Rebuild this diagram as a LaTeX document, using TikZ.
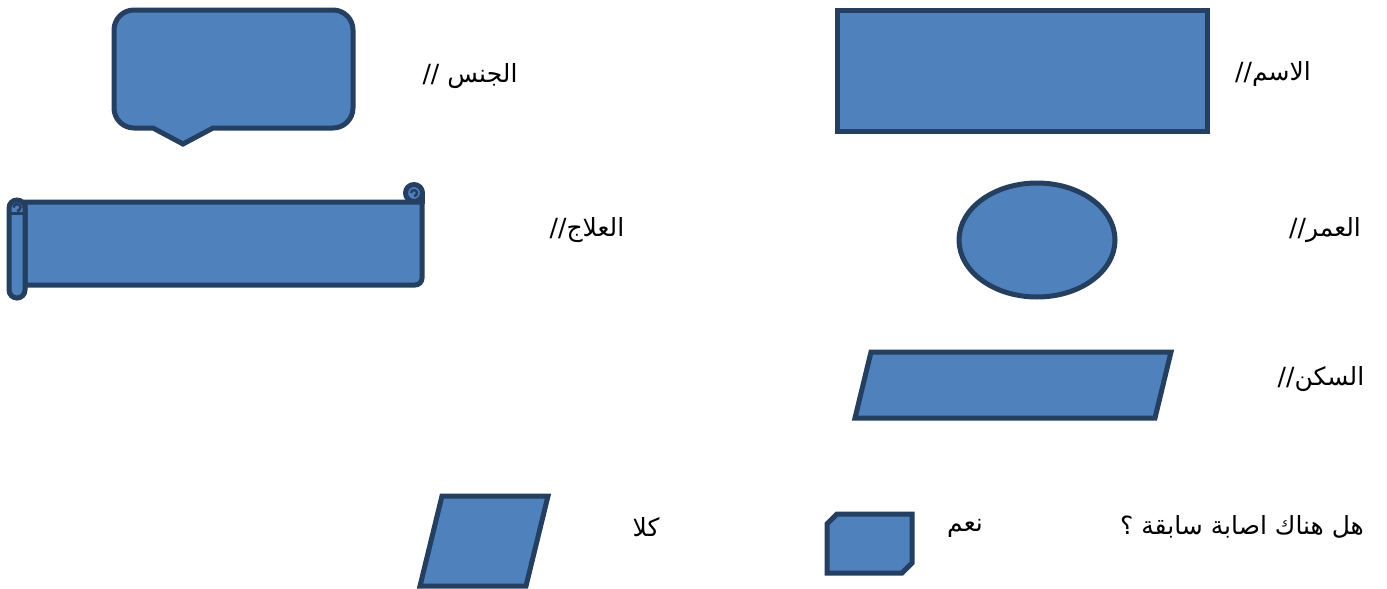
\documentclass[tikz,border=0pt]{standalone}
\usepackage{fontspec}
\newfontfamily\arabicfont[Script=Arabic]{DejaVu Sans}
\TeXXeTstate=1
\definecolor{shapefill}{HTML}{4F81BD}
\definecolor{shapeline}{HTML}{243F60}
\tikzset{
  shp/.style={fill=shapefill,draw=shapeline,line width=5pt},
  lbl/.style={font=\arabicfont\fontsize{25}{28}\selectfont,inner sep=0pt,anchor=center},
}
\begin{document}
\begin{tikzpicture}[x=1pt,y=-1pt]
\useasboundingbox (0,0) rectangle (1387,589);
% name rectangle
\path[shp] (837,10) rectangle (1207,131);
\node[lbl] (name) at (1273,74) {\beginR الاسم\kern0pt//\endR};
% gender callout
\path[shp] (134,10) -- (333,10) arc[start angle=-90,end angle=0,radius=20]
  -- (353,108) arc[start angle=0,end angle=90,radius=20]
  -- (213,128) -- (183,144) -- (153,128) -- (134,128)
  arc[start angle=90,end angle=180,radius=20]
  -- (114,30) arc[start angle=180,end angle=270,radius=20] -- cycle;
\node[lbl] (gender) at (470,76) {\beginR الجنس //\endR};
% scroll
\path[shp] (25,202) -- (422,202) -- (422,278) arc[start angle=0,end angle=90,radius=7] -- (25,285) -- cycle;
\path[shp] (414,193) circle[radius=8.5];
\draw[shapeline,line width=2.5pt] (414,196) arc[start angle=90,end angle=-180,radius=3];
\draw[shapeline,line width=5pt] (422,193) -- (422,204);
\path[shp,rounded corners=8] (9,200) rectangle (25,298);
\draw[shapeline,line width=2.5pt] (17,211) arc[start angle=90,end angle=-180,radius=3.5];
\draw[shapeline,line width=3pt] (9,213) -- (25,213);
\node[lbl] (treat) at (587,230) {\beginR العلاج\kern0pt//\endR};
% age ellipse
\path[shp] (1037,240) ellipse[x radius=78,y radius=57];
\node[lbl] (age) at (1325,230) {\beginR العمر\kern0pt//\endR};
% housing parallelogram
\path[shp] (871,352) -- (1171,352) -- (1155,418) -- (855,418) -- cycle;
\node[lbl] (house) at (1321,379) {\beginR السكن\kern0pt//\endR};
% question
\node[lbl] (q) at (1242,527) {\beginR هل هناك اصابة سابقة ؟\endR};
% yes snipped rect
\path[shp] (837,514) -- (912,514) -- (912,563) -- (902,573) -- (827,573) -- (827,524) -- cycle;
\node[lbl] (yes) at (965,528) {\beginR نعم\endR};
% no
\node[lbl] (no) at (646,527) {\beginR كلا\endR};
\path[shp] (442,496) -- (548,496) -- (526,586) -- (420,586) -- cycle;
\end{tikzpicture}
\end{document}
